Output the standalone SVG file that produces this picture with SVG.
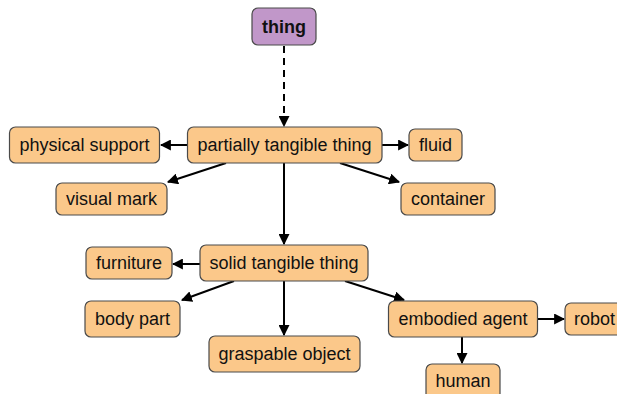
<svg xmlns="http://www.w3.org/2000/svg" width="617" height="394" viewBox="0 0 617 394">
<style>
.n rect{fill:#fbc88a;stroke:#4a4a4a;stroke-width:1.2}
.n text{font-family:"Liberation Sans",Arial,sans-serif;font-size:18px;fill:#111;text-anchor:middle;dominant-baseline:central}
#thing rect{fill:#c197c9}
#thing text{font-weight:bold}
.e line{stroke:#000;stroke-width:2;fill:none;marker-end:url(#ah)}
</style>
<defs>
<marker id="ah" viewBox="0 0 10 10" refX="9" refY="5" markerWidth="5.5" markerHeight="5.5" orient="auto" markerUnits="strokeWidth">
<path d="M0,0 L10,5 L0,10 z" fill="#000"/>
</marker>
</defs>
<g class="e">
<line x1="284" y1="46" x2="284" y2="126" stroke-dasharray="7,5"/>
<line x1="187" y1="145" x2="161" y2="145"/>
<line x1="382" y1="145" x2="408" y2="145"/>
<line x1="226" y1="163" x2="168" y2="182"/>
<line x1="340" y1="163" x2="399" y2="182"/>
<line x1="284" y1="163" x2="284" y2="244"/>
<line x1="200" y1="264" x2="173" y2="264"/>
<line x1="234" y1="281" x2="182" y2="300"/>
<line x1="284" y1="281" x2="284" y2="335"/>
<line x1="345" y1="281" x2="404" y2="300"/>
<line x1="537" y1="319" x2="564" y2="319"/>
<line x1="462" y1="337" x2="462" y2="363"/>
</g>
<g id="thing" class="n"><rect x="252" y="8" width="64" height="37" rx="6"/><text x="284" y="26.5">thing</text></g>
<g id="partially" class="n"><rect x="187.5" y="127" width="194.5" height="36" rx="6"/><text x="284.5" y="145">partially tangible thing</text></g>
<g id="physical" class="n"><rect x="9.5" y="127" width="150" height="36" rx="6"/><text x="84.5" y="145">physical support</text></g>
<g id="fluid" class="n"><rect x="409" y="129" width="53" height="32" rx="6"/><text x="435.5" y="145">fluid</text></g>
<g id="visual" class="n"><rect x="56" y="183" width="111" height="32" rx="6"/><text x="111.5" y="199">visual mark</text></g>
<g id="container" class="n"><rect x="401" y="183" width="94" height="32" rx="6"/><text x="448" y="199">container</text></g>
<g id="solid" class="n"><rect x="200" y="245" width="168" height="36" rx="6"/><text x="284" y="263">solid tangible thing</text></g>
<g id="furniture" class="n"><rect x="86" y="247" width="86" height="32" rx="6"/><text x="129" y="263">furniture</text></g>
<g id="body" class="n"><rect x="85" y="301" width="95" height="36" rx="6"/><text x="132.5" y="319">body part</text></g>
<g id="graspable" class="n"><rect x="209" y="336" width="151" height="36" rx="6"/><text x="284.5" y="354">graspable object</text></g>
<g id="embodied" class="n"><rect x="388.5" y="301" width="149" height="36" rx="6"/><text x="463" y="319">embodied agent</text></g>
<g id="robot" class="n"><rect x="565" y="303" width="70" height="32" rx="6"/><text x="574" y="319" style="text-anchor:start">robot</text></g>
<g id="human" class="n"><rect x="426" y="364" width="74" height="40" rx="6"/><text x="463" y="381">human</text></g>
</svg>
